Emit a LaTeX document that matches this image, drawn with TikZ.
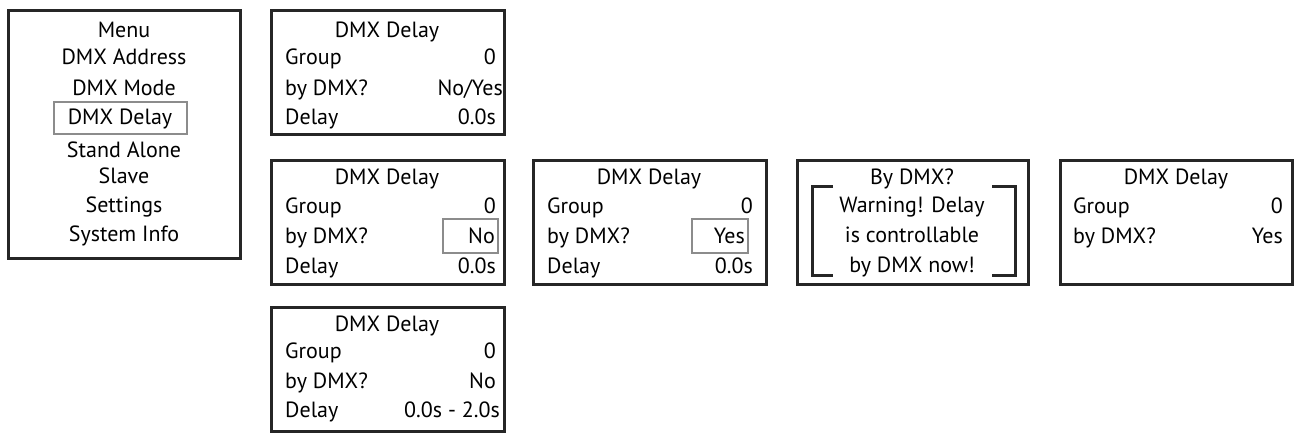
\documentclass[tikz,border=0pt]{standalone}
\usepackage{fontspec}
\setmainfont{PT Sans}
\begin{document}
\begin{tikzpicture}[x=1pt,y=-1pt,
  box/.style={draw=black!85,line width=3pt},
  hl/.style={draw=black!45,line width=2pt},
  t/.style={font=\fontsize{22}{22}\selectfont,inner sep=0pt,anchor=base},
  l/.style={t,anchor=base west},
  r/.style={t,anchor=base east}]
\useasboundingbox (0,0) rectangle (1298,437);
% menu
\draw[box] (8,10) rectangle (240,258);
\node[t] (m0) at (124,37) {Menu};
\node[t] (m1) at (124,64) {DMX Address};
\node[t] (m2) at (124,95) {DMX Mode};
\node[t] (m3) at (120,124) {DMX Delay};
\draw[hl] (54,102) rectangle (187,134);
\node[t] (m4) at (124,157) {Stand Alone};
\node[t] (m5) at (124,183) {Slave};
\node[t] (m6) at (124,212) {Settings};
\node[t] (m7) at (124,241) {System Info};
% Box A
\draw[box] (271,10) rectangle (504,134);
\node[t] (a0) at (387,37) {DMX Delay};
\node[l] (a1) at (285,64) {Group};  \node[r] (a1r) at (496,64) {0};
\node[l] (a2) at (285,95) {by DMX?}; \node[r] (a2r) at (503,95) {No/Yes};
\node[l] (a3) at (285,124) {Delay}; \node[r] (a3r) at (496,124) {0.0s};
% Box B
\draw[box] (271,160) rectangle (504,284);
\node[t] (b0) at (387,184) {DMX Delay};
\node[l] (b1) at (285,213) {Group};  \node[r] (b1r) at (496,213) {0};
\node[l] (b2) at (285,243) {by DMX?}; \node[r] (b2r) at (495,243) {No};
\draw[hl] (443,219) rectangle (498,253);
\node[l] (b3) at (285,273) {Delay}; \node[r] (b3r) at (496,273) {0.0s};
% Box C
\draw[box] (533,160) rectangle (766,284);
\node[t] (c0) at (649,184) {DMX Delay};
\node[l] (c1) at (547,213) {Group};  \node[r] (c1r) at (753,213) {0};
\node[l] (c2) at (547,243) {by DMX?}; \node[r] (c2r) at (745,243) {Yes};
\draw[hl] (692,219) rectangle (748,253);
\node[l] (c3) at (547,273) {Delay}; \node[r] (c3r) at (753,273) {0.0s};
% Box D
\draw[box] (797,160) rectangle (1028,284);
\node[t] (d0) at (912,184) {By DMX?};
\node[t] (d1) at (912,212) {Warning! Delay};
\node[t] (d2) at (912,242) {is controllable};
\node[t] (d3) at (912,272) {by DMX now!};
\draw[line width=3pt,black!85] (833,186) -| (812,275) -- (833,275);
\draw[line width=3pt,black!85] (992,186) -| (1015,275) -- (992,275);
% Box E
\draw[box] (1060,160) rectangle (1292,284);
\node[t] (e0) at (1176,184) {DMX Delay};
\node[l] (e1) at (1073,213) {Group};  \node[r] (e1r) at (1283,213) {0};
\node[l] (e2) at (1073,243) {by DMX?}; \node[r] (e2r) at (1283,243) {Yes};
% Box F
\draw[box] (271,307) rectangle (504,431);
\node[t] (f0) at (387,331) {DMX Delay};
\node[l] (f1) at (285,358) {Group};  \node[r] (f1r) at (496,358) {0};
\node[l] (f2) at (285,388) {by DMX?}; \node[r] (f2r) at (496,388) {No};
\node[l] (f3) at (285,417) {Delay}; \node[r] (f3r) at (500,417) {0.0s - 2.0s};
\end{tikzpicture}
\end{document}
